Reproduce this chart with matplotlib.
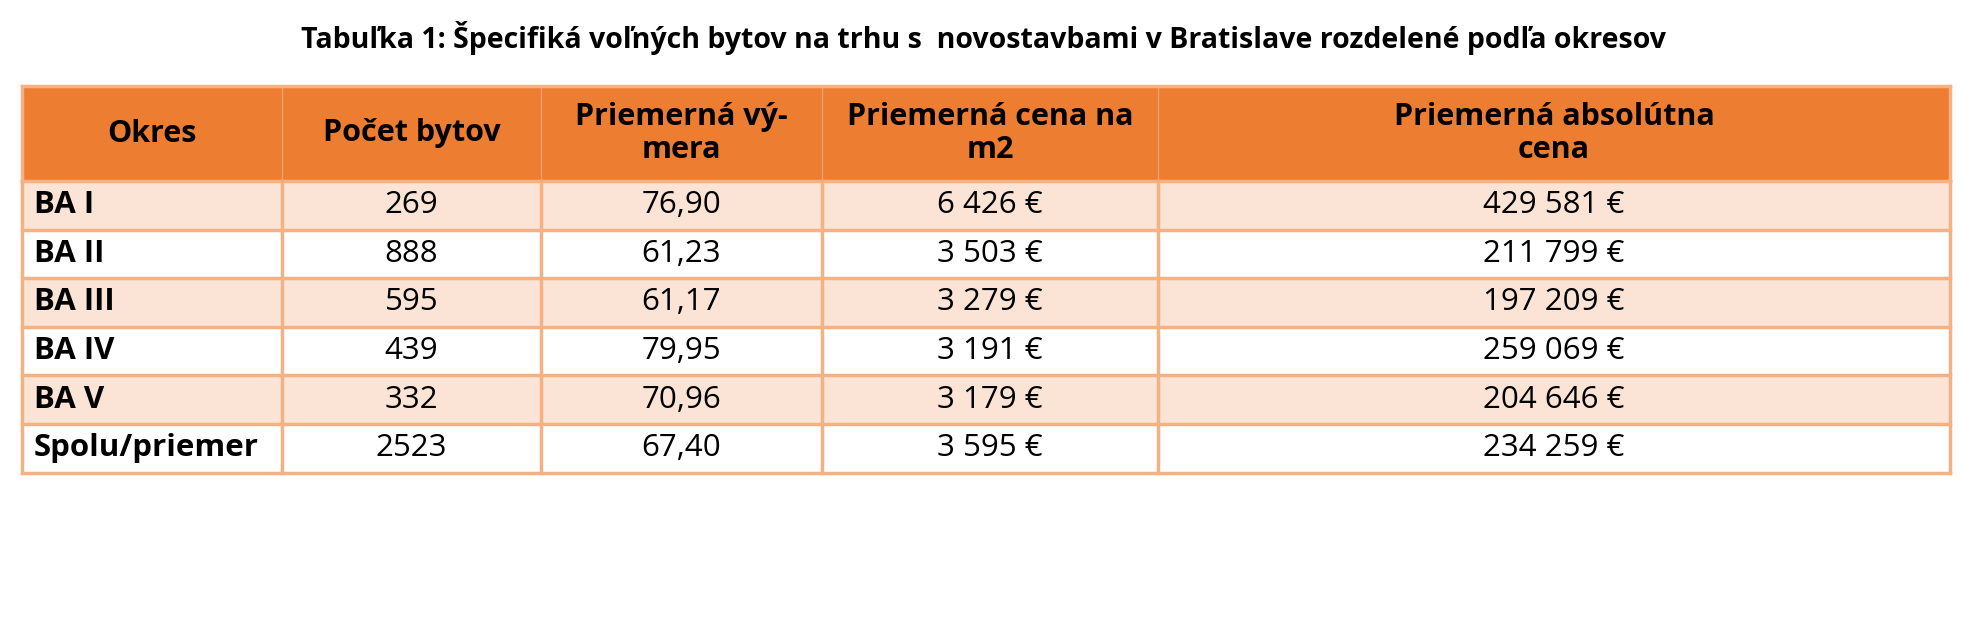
import matplotlib.pyplot as plt
from matplotlib.patches import Rectangle

plt.rcParams['font.family'] = ['Open Sans', 'DejaVu Sans']

title = 'Tabuľka 1: Špecifiká voľných bytov na trhu s  novostavbami v Bratislave rozdelené podľa okresov'
headers = ['Okres', 'Počet bytov', 'Priemerná vý-\nmera', 'Priemerná cena na\nm2', 'Priemerná absolútna\ncena']
okres = ['BA I', 'BA II', 'BA III', 'BA IV', 'BA V', 'Spolu/priemer']
pocet = ['269', '888', '595', '439', '332', '2523']
vymera = ['76,90', '61,23', '61,17', '79,95', '70,96', '67,40']
cena_m2 = ['6 426 €', '3 503 €', '3 279 €', '3 191 €', '3 179 €', '3 595 €']
cena_abs = ['429 581 €', '211 799 €', '197 209 €', '259 069 €', '204 646 €', '234 259 €']

W, H = 1967, 627
fig = plt.figure(figsize=(W / 100, H / 100), dpi=100)
ax = fig.add_axes([0, 0, 1, 1])
ax.set_xlim(0, W)
ax.set_ylim(H, 0)
ax.axis('off')

orange = '#ED7D31'
light = '#FBE4D5'
border = '#F4B183'
cols = [22, 282, 541, 822, 1158, 1950]
header_top, header_bot = 86, 181
row_h = 48.6
fs = 22.5
hfs = 22

ax.text(W / 2, 38, title, ha='center', va='center', fontsize=20.5, fontweight='bold')

ax.add_patch(Rectangle((cols[0], header_top), cols[-1] - cols[0], header_bot - header_top,
                       facecolor=orange, edgecolor='none'))
for j, h in enumerate(headers):
    ax.text((cols[j] + cols[j + 1]) / 2, (header_top + header_bot) / 2, h,
            ha='center', va='center', fontsize=hfs, fontweight='bold', linespacing=1.15)

rows = list(zip(okres, pocet, vymera, cena_m2, cena_abs))
for i, row in enumerate(rows):
    y0 = header_bot + i * row_h
    fc = light if i % 2 == 0 else 'white'
    ax.add_patch(Rectangle((cols[0], y0), cols[-1] - cols[0], row_h, facecolor=fc, edgecolor='none'))
    for j, val in enumerate(row):
        yc = y0 + row_h / 2
        if j == 0:
            ax.text(cols[0] + 12, yc, val, ha='left', va='center', fontsize=fs, fontweight='bold')
        else:
            ax.text((cols[j] + cols[j + 1]) / 2, yc, val, ha='center', va='center', fontsize=fs)

bottom = header_bot + len(rows) * row_h
# grid lines
for i in range(len(rows) + 1):
    y = header_bot + i * row_h
    ax.plot([cols[0], cols[-1]], [y, y], color=border, lw=2.5)
for x in cols:
    ax.plot([x, x], [header_bot, bottom], color=border, lw=2.5)
for x in cols[1:-1]:
    ax.plot([x, x], [header_top, header_bot], color='#F4A06A', lw=1)
ax.plot([cols[0], cols[-1]], [header_top, header_top], color=border, lw=2.5)
ax.plot([cols[0], cols[0]], [header_top, header_bot], color=border, lw=2.5)
ax.plot([cols[-1], cols[-1]], [header_top, header_bot], color=border, lw=2.5)

fig.savefig('out.png', dpi=100, facecolor='white')
